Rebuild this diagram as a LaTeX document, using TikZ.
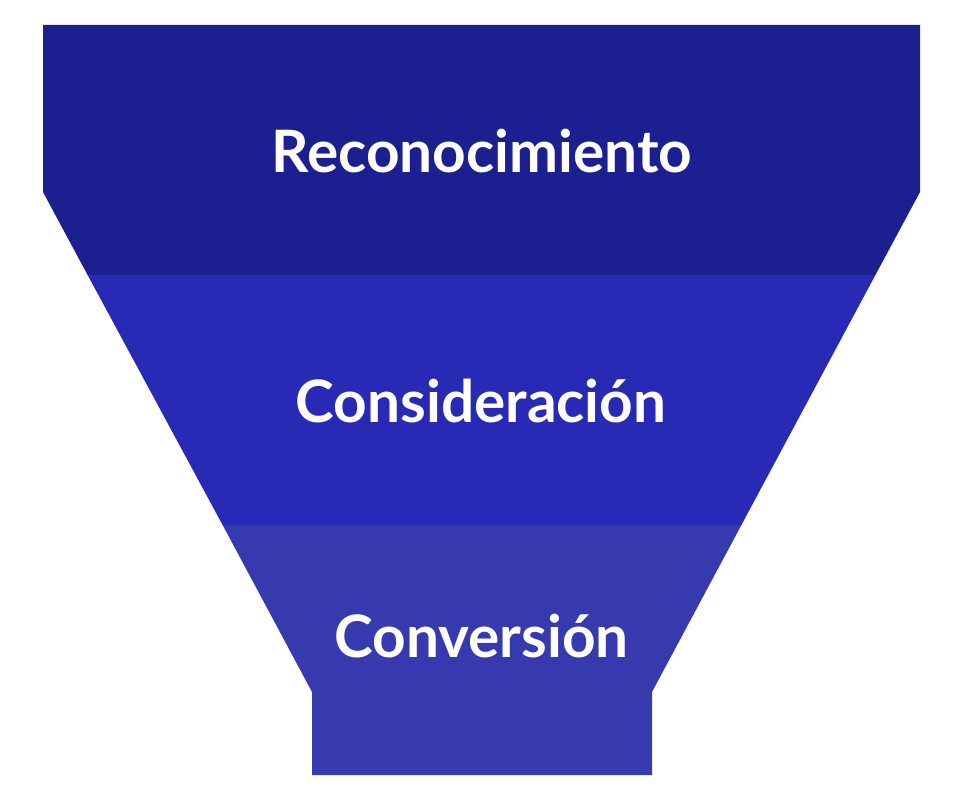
\documentclass[tikz,border=0pt]{standalone}
\usepackage{fontspec}
\setmainfont{Lato}
\definecolor{bandA}{RGB}{28,31,143}
\definecolor{bandB}{RGB}{40,41,180}
\definecolor{bandC}{RGB}{55,58,174}
\begin{document}
\begin{tikzpicture}[x=1pt,y=-1pt,
  label/.style={text=white,font=\fontsize{58.5}{64}\selectfont\bfseries,anchor=base,inner sep=0pt}]
\useasboundingbox (0,0) rectangle (966,802);
% left slant: (43,192)->(312,692); right slant: (920,192)->(652,692)
\fill[bandA] (43,25) -- (920,25) -- (920,192) -- (875.4,275) -- (87.6,275) -- (43,192) -- cycle;
\fill[bandB] (87.6,275) -- (875.4,275) -- (741.4,525) -- (222.6,525) -- cycle;
\fill[bandC] (222.6,525) -- (741.4,525) -- (652,692) -- (652,775) -- (312,775) -- (312,692) -- cycle;
\node[label] (reco) at (482,173) {Reconocimiento};
\node[label] (cons) at (481,422) {Consideración};
\node[label] (conv) at (481.5,657) {Conversión};
\end{tikzpicture}
\end{document}
